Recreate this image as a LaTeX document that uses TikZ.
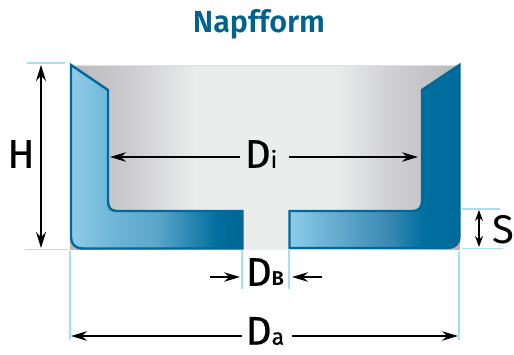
\documentclass[tikz,border=0pt]{standalone}
\usepackage{fontspec}
\setmainfont[BoldFont={* SemiBold}]{Fira Sans}
\newfontfamily\dimfont[FakeBold=0.6]{Fira Sans}
\usetikzlibrary{arrows.meta}
\definecolor{steel}{HTML}{00689A}
\definecolor{extline}{HTML}{A9DDF3}
\definecolor{titleblue}{HTML}{00628D}
\pgfdeclarehorizontalshading{bgshade}{100bp}{
  rgb(0bp)=(.72,.72,.73);rgb(25bp)=(.72,.72,.73);
  rgb(34bp)=(.82,.82,.83);rgb(41bp)=(.92,.925,.925);rgb(59bp)=(.92,.925,.925);
  rgb(66bp)=(.82,.82,.83);rgb(75bp)=(.72,.72,.73);rgb(100bp)=(.72,.72,.73)}
\pgfdeclarehorizontalshading{leftpiece}{100bp}{
  rgb(0bp)=(.56,.80,.91);rgb(25bp)=(.56,.80,.91);rgb(36bp)=(.44,.72,.85);
  rgb(50bp)=(.36,.65,.79);rgb(68bp)=(0,.43,.62);rgb(75bp)=(0,.40,.58);rgb(100bp)=(0,.40,.58)}
\pgfdeclarehorizontalshading{rightpiece}{100bp}{
  rgb(0bp)=(.55,.80,.91);rgb(25bp)=(.55,.80,.91);rgb(40bp)=(.38,.66,.80);
  rgb(55bp)=(.22,.53,.70);rgb(64bp)=(0,.44,.63);rgb(75bp)=(0,.42,.61);rgb(100bp)=(0,.42,.61)}
\tikzset{
  piece/.style={draw=steel,line width=2.4pt,line join=miter},
  extension/.style={draw=extline,line width=1.8pt},
  dimline/.style={draw=black,line width=1.4pt,{Stealth[length=16pt,width=10pt]}-{Stealth[length=16pt,width=10pt]}},
  leader/.style={draw=black,line width=1.4pt,-{Stealth[length=16pt,width=9.5pt]}},
  shortdim/.style={draw=black,line width=1.4pt,{Stealth[length=11pt,width=8pt]}-{Stealth[length=11pt,width=8pt]}},
  biglabel/.style={inner sep=0pt,font=\dimfont\fontsize{40}{40}\selectfont,text=black},
}
\newcommand{\smallsub}[1]{{\fontsize{23}{23}\selectfont #1}}
\begin{document}
\begin{tikzpicture}[x=1pt,y=-1pt]
\useasboundingbox (0,0) rectangle (514,354);
\fill[white] (0,0) rectangle (514,354);
% background
\shade[shading=bgshade] (70,65) rectangle (460,249);
\draw[black!12,line width=1pt] (70,65.5) -- (460,65.5);
% pieces
\path[piece,shading=leftpiece]
  (71,65) -- (108,90) -- (108,201)
  .. controls (108,208) and (111,211) .. (117,211) -- (242.5,211) -- (242.5,248.5)
  -- (83,248.5) .. controls (75,248.5) and (71,244) .. (71,237) -- cycle;
\path[piece,shading=rightpiece]
  (459.5,65) -- (422,90) -- (422,201)
  .. controls (422,207) and (419,211) .. (413,211) -- (289.5,211) -- (289.5,248)
  -- (448,248) .. controls (455,248) and (459.5,243) .. (459.5,237) -- cycle;
% extension lines
\draw[extension] (27,63) -- (65,63);
\draw[extension] (25,249.5) -- (68,249.5);
\draw[extension] (70,251) -- (70,340);
\draw[extension] (459,251) -- (459,340);
\draw[extension] (462,209) -- (500,209);
\draw[extension] (462,248.5) -- (503,248.5);
\draw[extension] (242,250) -- (242,289);
\draw[extension] (289,250) -- (289,289);
% title
\node[inner sep=0pt,text=titleblue,font=\bfseries\fontsize{30.5}{30.5}\selectfont] (title) at (259,24) {Napfform};
% labels
\node[biglabel] (H) at (21,154) {H};
\node[biglabel] (Di) at (261,154) {D\smallsub{i}};
\node[biglabel] (DB) at (265,272) {D\smallsub{\normalfont\bfseries\fontsize{20}{20}\selectfont B}};
\node[biglabel] (Da) at (265,331) {D\smallsub{a}};
\node[inner sep=0pt,font=\fontsize{40}{40}\selectfont] (S) at (503,229.5) {S};
% dimension anchors
\coordinate (Ht) at (41,65);
\coordinate (Hb) at (41,248);
\coordinate (DiL) at (110,157);
\coordinate (DiR) at (418,157);
\coordinate (DiLs) at (240,157);
\coordinate (DiRs) at (289,157);
\coordinate (DBLs) at (210,277);
\coordinate (DBL) at (240,277);
\coordinate (DBRs) at (322,277);
\coordinate (DBR) at (292,277);
\coordinate (DaL) at (71,336);
\coordinate (DaR) at (458,336);
\coordinate (DaLs) at (242,336);
\coordinate (DaRs) at (292,336);
\coordinate (St) at (479,210);
\coordinate (Sb) at (479,247);
% arrows
\draw[dimline] (Ht) -- (Hb);
\draw[leader] (DiLs) -- (DiL);
\draw[leader] (DiRs) -- (DiR);
\draw[leader] (DBLs) -- (DBL);
\draw[leader] (DBRs) -- (DBR);
\draw[leader] (DaLs) -- (DaL);
\draw[leader] (DaRs) -- (DaR);
\draw[shortdim] (St) -- (Sb);
\end{tikzpicture}
\end{document}
